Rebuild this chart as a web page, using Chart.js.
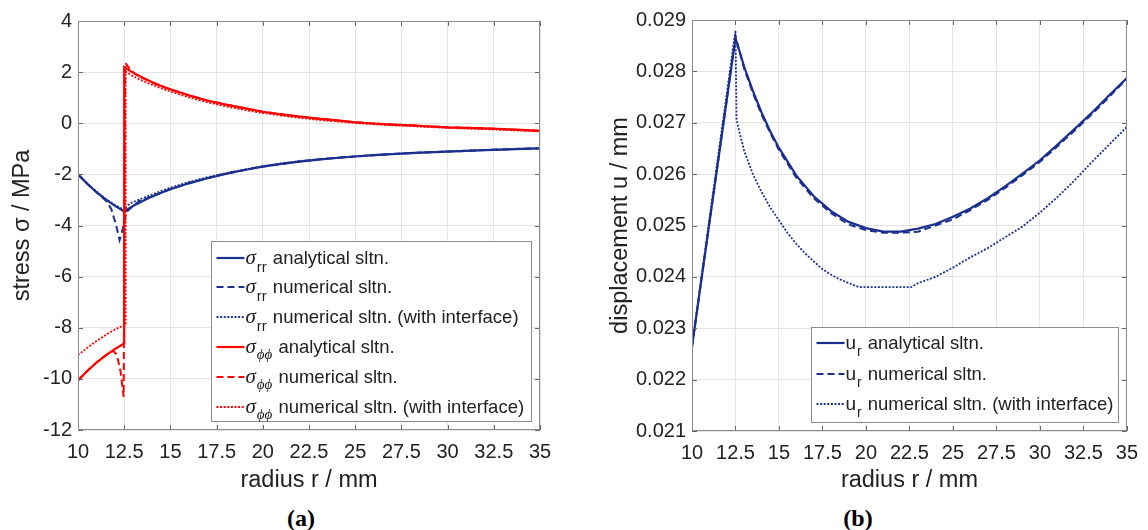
<!DOCTYPE html>
<html>
<head>
<meta charset="utf-8">
<script src="https://cdn.jsdelivr.net/npm/chart.js@4.4.0/dist/chart.umd.min.js"></script>
<style>
  body { margin: 0; background: #fff; width: 1148px; height: 530px; overflow: hidden; position: relative; }
  canvas { position: absolute; top: 0; }
  #stressChart { left: 0; }
  #dispChart { left: 574px; }
  .cap { position: absolute; top: 505px; line-height: 24px; font: bold 24px "Liberation Serif", "Times New Roman", serif; color: #000; transform: translateX(-50%); }
</style>
</head>
<body>
<canvas id="stressChart" width="574" height="500"></canvas>
<canvas id="dispChart" width="574" height="500"></canvas>
<div class="cap" style="left:301px">(a)</div>
<div class="cap" style="left:858px">(b)</div>

<script>
// ---- данные: (a) напряжения, МПа ----
const rSrrAna = [10, 10.5, 11, 11.5, 12, 12.5, 13, 13.5, 14, 14.5, 15, 16, 17, 18, 19, 20, 21, 22, 23, 24, 25, 26, 27, 28, 29, 30, 31, 32, 33, 34, 35];
const srrAna = [-2.00, -2.37, -2.70, -2.98, -3.23, -3.45, -3.23, -3.04, -2.87, -2.72, -2.58, -2.35, -2.15, -1.98, -1.83, -1.70, -1.59, -1.50, -1.42, -1.36, -1.30, -1.25, -1.21, -1.17, -1.14, -1.11, -1.08, -1.05, -1.03, -1.00, -0.98];

const rSrrNum = [10, 10.5, 11, 11.5, 11.8, 12.05, 12.25, 12.4, 12.55, 12.65, 13, 13.35, 13.7, 14, 14.5, 15, 16, 17, 18, 19, 20, 21, 22, 23, 24, 25, 26, 27, 28, 29, 30, 31, 32, 33, 34, 35];
const srrNum = [-2.00, -2.37, -2.70, -3.02, -3.35, -3.95, -4.57, -4.20, -3.70, -3.45, -3.22, -3.03, -2.95, -2.86, -2.72, -2.58, -2.34, -2.15, -1.97, -1.83, -1.69, -1.59, -1.49, -1.42, -1.35, -1.30, -1.25, -1.20, -1.17, -1.13, -1.11, -1.08, -1.05, -1.02, -1.00, -0.98];

const rSrrInt = [10, 10.5, 11, 11.5, 12, 12.5, 12.58, 12.8, 13.2, 13.6, 14, 14.5, 15, 16, 17, 18, 19, 20, 21, 22, 23, 24, 25, 26, 27, 28, 29, 30, 31, 32, 33, 34, 35];
const srrInt = [-2.00, -2.35, -2.67, -2.96, -3.20, -3.40, -3.30, -3.14, -3.02, -2.90, -2.79, -2.65, -2.52, -2.30, -2.11, -1.95, -1.81, -1.68, -1.57, -1.48, -1.41, -1.35, -1.29, -1.24, -1.20, -1.16, -1.13, -1.10, -1.07, -1.05, -1.02, -1.00, -0.98];

const rSppAna = [10, 10.5, 11, 11.5, 12, 12.5, 12.5, 13, 13.5, 14, 14.5, 15, 16, 17, 18, 19, 20, 21, 22, 23, 24, 25, 26, 27, 28, 29, 30, 31, 32, 33, 34, 35];
const sppAna = [-10.06, -9.69, -9.36, -9.08, -8.83, -8.61, 2.19, 1.97, 1.78, 1.61, 1.46, 1.33, 1.09, 0.89, 0.73, 0.59, 0.45, 0.35, 0.26, 0.18, 0.11, 0.04, -0.01, -0.05, -0.08, -0.12, -0.16, -0.18, -0.20, -0.23, -0.26, -0.30];

const rSppNum = [10, 10.5, 11, 11.5, 11.9, 12.1, 12.3, 12.47, 12.55, 12.8, 13.1, 13.5, 14, 14.5, 15, 16, 17, 18, 19, 20, 21, 22, 23, 24, 25, 26, 27, 28, 29, 30, 31, 32, 33, 34, 35];
const sppNum = [-10.06, -9.69, -9.36, -9.08, -8.90, -9.05, -9.70, -10.70, 2.37, 2.12, 1.92, 1.77, 1.60, 1.46, 1.32, 1.09, 0.89, 0.73, 0.59, 0.45, 0.35, 0.26, 0.18, 0.11, 0.04, -0.01, -0.05, -0.08, -0.12, -0.16, -0.18, -0.20, -0.23, -0.26, -0.30];

const rSppInt = [10, 10.5, 11, 11.5, 12, 12.5, 12.58, 12.58, 13, 13.5, 14, 14.5, 15, 16, 17, 18, 19, 20, 21, 22, 23, 24, 25, 26, 27, 28, 29, 30, 31, 32, 33, 34, 35];
const sppInt = [-9.07, -8.78, -8.52, -8.28, -8.07, -7.89, -7.89, 2.02, 1.83, 1.66, 1.51, 1.37, 1.24, 1.01, 0.82, 0.66, 0.52, 0.40, 0.30, 0.21, 0.13, 0.07, 0.01, -0.04, -0.08, -0.11, -0.15, -0.18, -0.21, -0.23, -0.26, -0.29, -0.32];

// ---- данные: (b) перемещения, мм ----
const rUr = [10, 10.5, 11, 11.5, 12, 12.5, 13, 13.5, 14, 14.5, 15, 16, 17, 18, 19, 20, 21, 22, 23, 24, 25, 26, 27, 28, 29, 30, 31, 32, 33, 34, 35];
const urAna = [0.02264, 0.02385, 0.02505, 0.02625, 0.02745, 0.02865, 0.02809, 0.02762, 0.02720, 0.02683, 0.02651, 0.02597, 0.02557, 0.02528, 0.02507, 0.02495, 0.02488, 0.02488, 0.02494, 0.02503, 0.02517, 0.02533, 0.02553, 0.02576, 0.02601, 0.02627, 0.02657, 0.02688, 0.02720, 0.02754, 0.02787];
const urNum = [0.02264, 0.02385, 0.02505, 0.02625, 0.02745, 0.02868, 0.02805, 0.02758, 0.02716, 0.02680, 0.02647, 0.02593, 0.02553, 0.02524, 0.02502, 0.02491, 0.02486, 0.02486, 0.02488, 0.02500, 0.02512, 0.02530, 0.02550, 0.02573, 0.02598, 0.02624, 0.02654, 0.02685, 0.02717, 0.02751, 0.02786];

const rUrInt = [10, 10.5, 11, 11.5, 12, 12.5, 12.56, 13, 13.5, 14, 14.5, 15, 15.5, 16, 16.5, 17, 17.5, 18, 18.5, 19, 19.6, 22.6, 23, 24, 25, 26, 27, 28, 29, 30, 31, 32, 33, 34, 35];
const urInt = [0.02264, 0.02390, 0.02512, 0.02635, 0.02757, 0.02880, 0.02705, 0.02645, 0.02600, 0.02565, 0.02535, 0.02510, 0.02485, 0.02464, 0.02446, 0.02430, 0.02415, 0.02404, 0.02395, 0.02388, 0.02380, 0.02380, 0.02388, 0.02400, 0.02418, 0.02438, 0.02456, 0.02477, 0.02498, 0.02525, 0.02555, 0.02588, 0.02624, 0.02658, 0.02692];

// ---- оси ----
const rTicks = { min: 10, max: 35, step: 2.5 };
const stressTicks = { min: -12, max: 4, step: 2 };
const dispTicks = { min: 0.021, max: 0.029, step: 0.001 };

// ======================
// оформление
// ======================
const FONT = '"Liberation Sans", Arial, Helvetica, sans-serif';
const BLUE = '#1b2f8e';
const RED = '#ff0000';
const TEXT = '#222222';
const GRID = '#e4e4e4';
const FRAME = '#8c8c8c';
const TITLE_SIZE = 23.5;

Chart.defaults.font.family = FONT;
Chart.defaults.color = TEXT;

const pts = (xs, ys) => xs.map((x, i) => ({ x: x, y: ys[i] }));

function line(xs, ys, color, dash, width, order) {
    return {
        data: pts(xs, ys),
        showLine: true,
        borderColor: color,
        borderWidth: width,
        borderDash: dash,
        pointRadius: 0,
        tension: 0,
        fill: false,
        order: order
    };
}

const SOLID = [], DASH = [7, 4], DOT = [2, 1.6];

// рамка с внутренними засечками (как в MATLAB)
const framePlugin = {
    id: 'frame',
    afterDatasetsDraw(chart) {
        const { ctx, chartArea: a, scales } = chart;
        ctx.save();
        ctx.strokeStyle = '#666';
        ctx.lineWidth = 1;
        ctx.beginPath();
        const len = 5;
        scales.x.ticks.forEach(t => {
            const px = Math.round(scales.x.getPixelForValue(t.value)) + 0.5;
            ctx.moveTo(px, a.bottom); ctx.lineTo(px, a.bottom - len);
            ctx.moveTo(px, a.top); ctx.lineTo(px, a.top + len);
        });
        scales.y.ticks.forEach(t => {
            const py = Math.round(scales.y.getPixelForValue(t.value)) + 0.5;
            ctx.moveTo(a.left, py); ctx.lineTo(a.left + len, py);
            ctx.moveTo(a.right, py); ctx.lineTo(a.right - len, py);
        });
        ctx.stroke();
        ctx.strokeStyle = FRAME;
        ctx.strokeRect(Math.round(a.left) + 0.5, Math.round(a.top) + 0.5,
                       Math.round(a.right - a.left) - 1, Math.round(a.bottom - a.top) - 1);
        ctx.restore();
    }
};

// легенда внутри области графика, с индексами
const boxLegendPlugin = {
    id: 'boxLegend',
    afterDraw(chart, args, opts) {
        if (!opts.items) return;
        const { ctx, chartArea: a } = chart;
        const x0 = Math.round(a.right - opts.right - opts.width) + 0.5;
        const y0 = Math.round(a.bottom - opts.bottom - opts.height) + 0.5;
        ctx.save();
        ctx.fillStyle = '#fff';
        ctx.fillRect(x0, y0, opts.width, opts.height);
        ctx.strokeStyle = FRAME;
        ctx.lineWidth = 1;
        ctx.strokeRect(x0, y0, opts.width, opts.height);
        ctx.textBaseline = 'alphabetic';
        opts.items.forEach((it, i) => {
            const ds = chart.data.datasets[it.ds];
            const cy = Math.round(y0 + opts.first + i * opts.step);
            ctx.beginPath();
            ctx.setLineDash(ds.borderDash || []);
            ctx.strokeStyle = ds.borderColor;
            ctx.lineWidth = ds.borderWidth;
            ctx.moveTo(x0 + 5, cy);
            ctx.lineTo(x0 + 33, cy);
            ctx.stroke();
            ctx.setLineDash([]);

            ctx.fillStyle = TEXT;
            const base = cy + 6;
            let tx = x0 + 34;
            ctx.font = it.symFont;
            ctx.fillText(it.sym, tx, base);
            tx += ctx.measureText(it.sym).width + 1;
            ctx.font = it.subFont;
            ctx.fillText(it.sub, tx, base + it.drop);
            tx += ctx.measureText(it.sub).width + 6;
            ctx.font = opts.font;
            ctx.fillText(it.label, tx, base);
        });
        ctx.restore();
    }
};

function xScale(height) {
    return {
        type: 'linear',
        min: rTicks.min,
        max: rTicks.max,
        afterFit: s => { s.height = height; },
        afterBuildTicks: s => {
            s.ticks = [];
            for (let v = rTicks.min; v <= rTicks.max + 1e-9; v += rTicks.step) s.ticks.push({ value: v });
        },
        ticks: { font: { size: 20 }, color: TEXT, padding: 10, maxRotation: 0, autoSkip: false,
                 callback: v => String(v) },
        grid: { color: GRID, drawTicks: false },
        border: { display: false },
        title: { display: true, text: 'radius r / mm', font: { size: TITLE_SIZE }, color: TEXT,
                 padding: { top: 0, bottom: 5 } }
    };
}

function yScale(t, width, title, titlePad, fmt) {
    return {
        type: 'linear',
        min: t.min,
        max: t.max,
        afterFit: s => { s.width = width; },
        afterBuildTicks: s => {
            s.ticks = [];
            const n = Math.round((t.max - t.min) / t.step);
            for (let i = 0; i <= n; i++) s.ticks.push({ value: t.min + i * t.step });
        },
        ticks: { font: { size: 20 }, color: TEXT, padding: 6, autoSkip: false, callback: fmt },
        grid: { color: GRID, drawTicks: false },
        border: { display: false },
        title: { display: true, text: title, font: { size: TITLE_SIZE }, color: TEXT,
                 padding: { top: titlePad, bottom: 0 } }
    };
}

const commonOpts = {
    responsive: false,
    animation: false,
    events: [],
    plugins: { legend: { display: false }, tooltip: { enabled: false } }
};

// ======================
// (a) напряжения
// ======================
const SIG = 'italic 21px "Liberation Serif", "Times New Roman", serif';
const SUB_RR = '15px ' + FONT;
const SUB_PP = 'italic 15px "Liberation Serif", "Times New Roman", serif';

new Chart(document.getElementById('stressChart'), {
    type: 'scatter',
    data: {
        datasets: [
            line(rSrrAna, srrAna, BLUE, SOLID, 2.2, 2),
            line(rSrrNum, srrNum, BLUE, DASH, 2, 2),
            line(rSrrInt, srrInt, BLUE, DOT, 1.8, 2),
            line(rSppAna, sppAna, RED, SOLID, 2.2, 1),
            line(rSppNum, sppNum, RED, DASH, 2, 1),
            line(rSppInt, sppInt, RED, DOT, 1.8, 1)
        ]
    },
    options: Object.assign({}, commonOpts, {
        layout: { padding: { left: 0, right: 34, top: 21, bottom: 0 } },
        scales: {
            x: xScale(70),
            y: yScale(stressTicks, 78, 'stress \u03c3 / MPa', 8, v => String(v))
        },
        plugins: Object.assign({}, commonOpts.plugins, {
            boxLegend: {
                right: 9, bottom: 9, width: 320, height: 180, first: 16, step: 29.9,
                font: '18.5px ' + FONT,
                items: [
                    { ds: 0, sym: '\u03c3', sub: 'rr', symFont: SIG, subFont: SUB_RR, drop: 8, label: 'analytical sltn.' },
                    { ds: 1, sym: '\u03c3', sub: 'rr', symFont: SIG, subFont: SUB_RR, drop: 8, label: 'numerical sltn.' },
                    { ds: 2, sym: '\u03c3', sub: 'rr', symFont: SIG, subFont: SUB_RR, drop: 8, label: 'numerical sltn. (with interface)' },
                    { ds: 3, sym: '\u03c3', sub: '\u03d5\u03d5', symFont: SIG, subFont: SUB_PP, drop: 6, label: 'analytical sltn.' },
                    { ds: 4, sym: '\u03c3', sub: '\u03d5\u03d5', symFont: SIG, subFont: SUB_PP, drop: 6, label: 'numerical sltn.' },
                    { ds: 5, sym: '\u03c3', sub: '\u03d5\u03d5', symFont: SIG, subFont: SUB_PP, drop: 6, label: 'numerical sltn. (with interface)' }
                ]
            }
        })
    }),
    plugins: [framePlugin, boxLegendPlugin]
});

// ======================
// (b) перемещения
// ======================
const U_FONT = '19px ' + FONT;
const SUB_R = '14px ' + FONT;

new Chart(document.getElementById('dispChart'), {
    type: 'scatter',
    data: {
        datasets: [
            line(rUr, urAna, BLUE, SOLID, 2.2, 1),
            line(rUr, urNum, BLUE, DASH, 2, 2),
            line(rUrInt, urInt, BLUE, DOT, 1.8, 3)
        ]
    },
    options: Object.assign({}, commonOpts, {
        layout: { padding: { left: 0, right: 15, top: 20, bottom: 0 } },
        scales: {
            x: xScale(69),
            y: yScale(dispTicks, 118, 'displacement u / mm', 32, v => v.toFixed(3))
        },
        plugins: Object.assign({}, commonOpts.plugins, {
            boxLegend: {
                right: 9, bottom: 9, width: 307, height: 95, first: 15.5, step: 30.5,
                font: '18.5px ' + FONT,
                items: [
                    { ds: 0, sym: 'u', sub: 'r', symFont: U_FONT, subFont: SUB_R, drop: 7, label: 'analytical sltn.' },
                    { ds: 1, sym: 'u', sub: 'r', symFont: U_FONT, subFont: SUB_R, drop: 7, label: 'numerical sltn.' },
                    { ds: 2, sym: 'u', sub: 'r', symFont: U_FONT, subFont: SUB_R, drop: 7, label: 'numerical sltn. (with interface)' }
                ]
            }
        })
    }),
    plugins: [framePlugin, boxLegendPlugin]
});
</script>
</body>
</html>
